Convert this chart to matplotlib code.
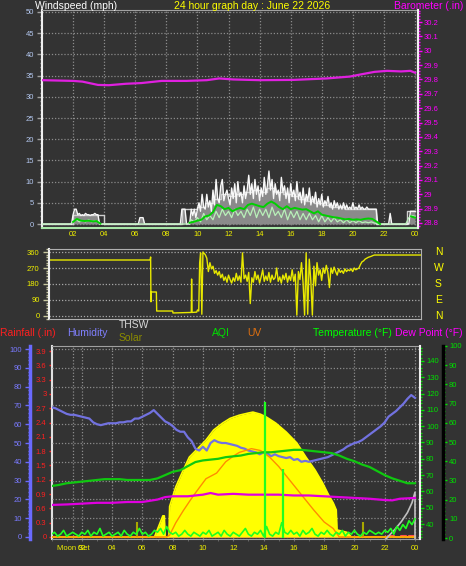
import numpy as np
import matplotlib
matplotlib.use("Agg")
import matplotlib.pyplot as plt
from matplotlib.ticker import MultipleLocator

plt.rcParams['font.family'] = ['Liberation Sans', 'DejaVu Sans']

# ======================= DATA =======================
hour_ticks = [2, 4, 6, 8, 10, 12, 14, 16, 18, 20, 22, 24]
hour_labels = ['02', '04', '06', '08', '10', '12', '14', '16', '18', '20', '22', '00']

# --- wind gust (mph), every 0.1 h from 00:00
gust_vals = (
    [0] * 20
    + [2.2, 3.5, 3.5, 2.2, 2.5, 2.0, 2.2, 2.0, 2.5, 2.2, 2.2, 2.0, 2.2, 2.2, 2.5, 2.2, 2.2]
    + [0] * 26
    + [1.5, 1.5, 1.5]
    + [0] * 24
    + [3.5, 3.5, 3.5]
    + [0] * 3
    + [3.5, 2, 3.5, 1.5]
    + [3.5, 5, 3, 7, 4, 3.5, 7, 4, 5.5, 3]
    + [8, 4.5, 10.5, 6, 5, 9, 10.5, 5.5, 7, 8]
    + [6, 4.5, 8.5, 6, 9.5, 5, 10, 6.5, 7.5, 5]
    + [9, 6, 8, 11.5, 7, 9.5, 6, 10.5, 7, 9]
    + [5.5, 8.5, 6.5, 11, 7, 9, 12.5, 8, 10.5, 6]
    + [9.5, 7, 8, 5.5, 11, 7.5, 9, 6, 8.5, 5]
    + [9.5, 6.5, 8, 5.5, 10, 6, 7.5, 5, 8.5, 4.5]
    + [7, 5.5, 8.5, 4.5, 6.5, 5, 7.5, 4, 6, 4.5]
    + [7, 4, 5.5, 4.5, 6.5, 4, 5, 3.5, 5.5, 4]
    + [5, 3.5, 4.5, 3.5, 5, 3.5, 4.5, 3.5, 4, 3.5]
    + [5, 3.5, 4, 3.5, 4.5, 3.5, 4, 3.5, 3.5, 4]
    + [3.5, 3.5, 3.5, 3.5, 3.5, 3.5]
    + [0] * 8
    + [2.5]
    + [0] * 12
    + [3.0, 3.0, 3.0, 3.0]
)
# --- 10-min high (mph), every 0.5 h
hi_vals = (
    [0] * 4
    + [2.2, 2.2, 2.2, 2.2]
    + [0] * 10
    + [3.5, 3.5, 4, 5, 6, 7, 6.5, 7, 7.5, 8, 7.5, 8.5, 7.5, 7, 6.5, 6, 5.5, 5, 4.5, 4, 4, 3.5, 3.5, 3.5, 3.5]
    + [0] * 4
    + [3, 3]
)
# --- wind speed (mph), every 0.2 h
speed_vals = (
    [0] * 10
    + [0.5, 1.0, 0.5, 0.8, 0.5, 1.0, 0.5, 0.8, 0.5]
    + [0] * 29
    + [1, 0.5,
       1.5, 0.5, 2.5, 1, 2,
       1, 3, 1.5, 3.5, 2,
       3, 1.5, 3.5, 2, 3,
       1.5, 3.5, 2, 4, 1.5,
       3.5, 2, 3.5, 1.5, 4,
       2, 3, 1.5, 3.5, 1,
       3, 1.5, 3, 1, 2.5,
       1, 2.5, 1, 2, 0.5,
       2, 0.5, 1.5, 0.5, 1.5,
       0.5, 1, 0.3, 1, 0.3,
       0.8, 0.3, 0.8, 0.3, 0.5,
       0.3, 0.5, 0.2]
    + [0] * 10
    + [1.5, 2.0, 1.8]
)
# --- 10-min average wind (mph), every 0.25 h
nan = np.nan
avg_vals = (
    [nan] * 8
    + [0.5, 1.2, 0.8, 0.7, 0.8, 0.6, 0.7, 0.1]
    + [nan] * 22
    + [0.3, 0.5,
       0.8, 1.0, 1.8, 2.0,
       2.8, 4.5, 4.2, 3.5,
       3.8, 3.0, 3.5, 3.8,
       3.5, 4.5, 4.8, 4.5,
       4.2, 4.0, 4.8, 5.3,
       4.8, 4.0, 3.5, 4.2,
       3.5, 3.8, 3.6, 3.4,
       3.5, 3.0, 2.5, 3.0,
       2.2, 2.0, 1.8, 1.6,
       1.5, 1.3, 1.1, 1.2,
       1.0, 1.1, 1.0, 1.2,
       1.3, 1.2, 0.6, 0.0]
    + [nan] * 7
    + [1.8, 1.5]
)
# --- barometer (in)
baro_hours = [0, 2, 2.6, 3.6, 4.3, 5.4, 6.4, 7.7, 9.3, 10.6, 11.4, 12.3, 14, 16.2, 18.3,
              19.8, 20.5, 21.4, 22.2, 23.1, 23.7, 24]
baro_vals = [29.795, 29.79, 29.785, 29.762, 29.76, 29.77, 29.775, 29.79, 29.79, 29.795,
             29.807, 29.80, 29.795, 29.797, 29.807, 29.82, 29.835, 29.853, 29.86, 29.856,
             29.86, 29.847]
baro_ticks = [28.8, 28.9, 29.0, 29.1, 29.2, 29.3, 29.4, 29.5, 29.6, 29.7, 29.8, 29.9, 30.0, 30.1, 30.2]
baro_labels = ['28.8', '28.9', '29', '29.1', '29.2', '29.3', '29.4', '29.5', '29.6', '29.7',
               '29.8', '29.9', '30', '30.1', '30.2']

# --- wind direction (deg)
dir_hours_early = [0, 6.55, 6.58, 6.6, 6.62, 6.95, 6.97, 8.0, 8.02, 9.2, 9.22, 9.25, 9.55,
                   9.6, 9.68, 9.74, 9.8, 9.88, 9.95]
dir_vals_early = [315, 315, 332, 80, 135, 135, 28, 28, 17, 20, 208, 20, 22,
                  34, 28, 300, 355, 10, 360]
dir_vals_day = (  # every 0.1 h from 10.0 to 21.0
    [355, 345, 325, 250, 300, 265, 280, 240, 255, 230]
    + [250, 215, 235, 200, 220, 190, 230, 205, 185, 215]
    + [195, 240, 200, 225, 190, 355, 210, 230, 195, 245]
    + [70, 215, 190, 250, 205, 230, 185, 220, 260, 195]
    + [225, 200, 245, 190, 230, 205, 215, 270, 195, 220]
    + [185, 230, 205, 240, 190, 225, 200, 260, 195, 235]
    + [5, 250, 205, 300, 190, 5, 355, 10, 320, 200]
    + [5, 280, 170, 300, 230, 260, 200, 270, 240, 285]
    + [245, 160, 270, 240, 275, 250, 230, 265, 245, 255]
    + [240, 265, 250, 260, 255, 265, 250, 270, 260, 265]
    + [270, 290, 305, 310, 320, 325, 330, 333, 336, 340]
    + [343]
)
dir_hours_late = [24.0]
dir_vals_late = [343]
compass_labels = ['N', 'W', 'S', 'E', 'N']
compass_deg = [360, 270, 180, 90, 0]

# --- humidity (%), every 0.25 h
hum_vals = [69, 68.5, 67.5, 66.5, 65.5, 65, 65, 64.5, 64, 63.5, 63, 61, 60, 59.5, 60, 60.5,
            60.5, 60.5, 61, 61, 61.5, 61.5, 63, 63, 64, 65, 66, 67.5, 65.5, 63.5, 61.5, 60.5,
            59, 57, 56, 56, 53, 51, 47, 46, 48, 46, 50, 51.5, 50.5, 50, 50, 49.5,
            49, 48.5, 47.5, 47, 46, 45.5, 45, 44, 45, 44.5, 43, 44, 43, 42.5, 42, 42.5,
            41, 41.5, 40, 40.5, 40, 40.5, 41, 41.5, 42, 42.5, 43.5, 44.5, 45.5, 46.5, 48, 49,
            50, 50.5, 51.5, 53, 54.5, 56, 57.5, 59, 61, 64, 65.5, 67, 69, 71, 73.5, 75.5, 74]
# --- temperature (F), every 0.5 h
temp_vals = [63.3, 64, 65, 65.5, 66, 66.5, 67, 67.5, 67.5, 67.5, 67, 67, 67, 67, 68, 70,
             72, 73, 75.5, 78, 79, 79.5, 80, 81, 81.5, 82, 83, 83.5, 84, 84, 84.5, 85,
             85.5, 85.5, 85, 84.5, 84, 83.5, 82, 80, 78.5, 76.5, 75, 72.5, 70, 68, 66.5, 65, 65]
# --- dew point (F)
dew_hours = [0, 1, 2, 3, 4, 5, 6, 7, 7.5, 8, 9, 10, 10.5, 11, 12, 13, 14, 15, 16, 17, 18,
             19, 20, 21, 22, 22.5, 23, 24]
dew_vals = [51.7, 52, 52.5, 53, 53, 53.5, 53.5, 55, 56.5, 57, 57, 58, 59, 58, 58.5, 58, 58,
            58, 57.5, 57.5, 57, 56.5, 56, 55.5, 54.7, 54.5, 55.5, 56]
# --- THSW (F)
thsw_hours = [21.9, 22.3, 22.7, 23.1, 23.5, 23.8, 24.0, 24.0]
thsw_vals = [29, 33, 37, 41.5, 47, 53, 59.5, 25]
# --- UV index
uv_hours = [0, 7.6, 7.8, 8.2, 8.7, 9.2, 9.6, 10.2, 10.9, 11.5, 12.0, 12.4, 13.2, 13.8, 14.4,
            15.0, 15.7, 16.5, 17.3, 18.0, 18.6, 19.0, 24]
uv_vals = [0, 0, 0.2, 1.5, 2.8, 4.0, 4.9, 6.2, 6.8, 8.0, 8.6, 9.0, 9.4, 9.2, 8.5,
           7.5, 6.1, 4.5, 2.9, 1.6, 0.9, 0, 0]
# --- solar radiation (W/m2)
solar_hours = [0, 6.8, 7.35, 7.45, 7.5, 7.75, 7.8, 8.2, 8.7, 9.1, 9.6, 10.2, 10.7, 11.3, 11.8,
               12.4, 13.0, 13.3, 13.8, 14.2, 14.8, 15.5, 16.2, 16.8, 17.4, 17.9, 18.3, 18.6,
               18.8, 18.85, 19.5, 19.8, 24]
solar_vals = [0, 0, 180, 180, 0, 0, 260, 425, 570, 680, 745, 825, 910, 970, 1010,
              1037, 1055, 1063, 1045, 1020, 970, 893, 800, 680, 570, 460, 357, 290,
              230, 60, 40, 0, 0]
solar_spike_hours = [5.65, 20.55]
solar_spike_vals = [128, 128]
# --- rainfall (in)
rain_hours = [0.0, 21.9, 22.0, 22.1, 22.2, 22.3, 22.4, 22.5, 22.6, 22.7, 22.8, 22.9, 23.0, 23.1,
              23.2, 23.3, 23.4, 23.5, 23.6, 23.7, 23.8, 23.9, 24.0]
rain_vals = [0, 0, 0, 0, 0.02, 0.02, 0.02, 0.02, 0, 0, 0, 0, 0, 0.02,
             0.02, 0.02, 0, 0, 0.02, 0.02, 0.02, 0.02, 0.02]
rain_ticks = [0, 0.3, 0.6, 0.9, 1.2, 1.5, 1.8, 2.1, 2.4, 2.7, 3.0, 3.3, 3.6, 3.9]
rain_labels = ['0', '0.3', '0.6', '0.9', '1.2', '1.5', '1.8', '2.1', '2.4', '2.7', '3', '3.3', '3.6', '3.9']
# --- AQI, every 0.2 h
aqi_vals = ([2, 3, 1, 2, 4, 1, 2, 3, 2, 1, 3]
            + [2, 4, 1, 3, 2, 5, 1, 2, 3, 1]
            + [2, 3, 1, 4, 2, 1, 3, 2, 5, 2]
            + [3, 1, 2, 4, 3, 5, 2, 6, 3, 2]
            + [3, 1, 2, 4, 2, 1, 3, 2, 1, 3]
            + [2, 4, 1, 2, 3, 1, 4, 2, 1, 3]
            + [2, 1, 3, 5, 2, 1, 3, 2, 4, 1]
            + [6, 2, 1, 3, 2, 8, 3, 2, 4, 2]
            + [3, 1, 4, 2, 3, 5, 2, 1, 3, 2]
            + [4, 2, 1, 3, 2, 4, 1, 3, 2, 4]
            + [2, 1, 3, 2, 4, 3, 2, 3, 2, 4]
            + [3, 5, 2, 6, 4, 7, 5, 9, 7, 10])
aqi_spike_hours = [14.1, 15.3]
aqi_spike_vals = [71, 36]
moon_set_hour = 1.42

# ======================= LAYOUT =======================
W, H = 466, 566
BG = '#333333'
YEL = '#f0f000'
TS = 5.5   # tick label size
HS = 7.5   # header size


def box(l, t, r, b):
    return [l / W, 1 - b / H, (r - l) / W, (b - t) / H]


def pt(px):
    return px * 0.72


fig = plt.figure(figsize=(W / 100, H / 100), dpi=100)
fig.patch.set_facecolor(BG)
GRID = dict(color='#8c8c8c', linestyle=(0, (1, 1.5)), linewidth=0.9)

# ---------------- panel 1 : wind & barometer ----------------
ax1 = fig.add_axes(box(42, 10, 418, 228))
ax1.set_facecolor(BG)
ax1.set_xlim(0, 24.19)
ax1.set_ylim(-0.94, 50.47)
ax1.set_xticks(hour_ticks)
ax1.set_xticklabels(hour_labels)
ax1.tick_params(axis='x', length=0, pad=pt(3), labelsize=TS, labelcolor=YEL)
ax1.set_yticks(np.arange(0, 51, 5))
ax1.yaxis.set_minor_locator(MultipleLocator(1))
ax1.tick_params(axis='y', which='major', length=pt(5), width=1, color='#a0a0a0',
                labelcolor='#b4c8f0', labelsize=TS, pad=pt(3))
ax1.tick_params(axis='y', which='minor', length=pt(2.5), width=1, color='#a0a0a0')
ax1.grid(True, **GRID)
ax1.set_axisbelow(True)
ax1.spines['left'].set_color('#f0f0f0'); ax1.spines['left'].set_linewidth(1.5)
ax1.spines['right'].set_color('#f0f0f0'); ax1.spines['right'].set_linewidth(1.5)
ax1.spines['top'].set_color('#a0a0a0')
ax1.spines['bottom'].set_color('#a8e8a8'); ax1.spines['bottom'].set_linewidth(1.5)

gust_hours = 0.1 * np.arange(len(gust_vals))
hi_hours = 0.5 * np.arange(len(hi_vals))
speed_hours = 0.2 * np.arange(len(speed_vals))
avg_hours = 0.25 * np.arange(len(avg_vals))

ax1.fill_between(gust_hours, 0, gust_vals, color='#8a8a8a', lw=0, zorder=2)
ax1.step(hi_hours, hi_vals, where='post', color='#cfcfcf', lw=1, zorder=3)
ax1.plot(gust_hours, gust_vals, color='#f8f8f8', lw=1.0, zorder=4)
ax1.plot(speed_hours, speed_vals, color='#b8f0b8', lw=0.9, zorder=5)
ax1.plot(avg_hours, avg_vals, color='#00d000', lw=1.4, zorder=6)

ax1b = ax1.twinx()
ax1b.set_ylim(28.765, 30.284)
ax1b.set_yticks(baro_ticks)
ax1b.set_yticklabels(baro_labels)
ax1b.yaxis.set_minor_locator(MultipleLocator(0.02))
ax1b.tick_params(axis='y', which='major', length=pt(4), width=1, color='#ff00ff',
                 labelcolor='#ff00ff', labelsize=TS, pad=pt(2))
ax1b.tick_params(axis='y', which='minor', length=pt(2), width=1, color='#ff00ff')
for s in ['left', 'top', 'bottom']:
    ax1b.spines[s].set_visible(False)
ax1b.spines['right'].set_color('#f0f0f0'); ax1b.spines['right'].set_linewidth(1.5)
ax1b.plot(baro_hours, baro_vals, color='#e020e0', lw=1.6)

fig.text(35 / W, 1 - 6 / H, 'Windspeed (mph)', color='white', fontsize=HS, ha='left', va='center')
fig.text(252 / W, 1 - 6 / H, '24 hour graph day : June 22 2026', color='#ffff00', fontsize=HS,
         ha='center', va='center')
fig.text(463 / W, 1 - 6 / H, 'Barometer (.in)', color='#ff00ff', fontsize=HS, ha='right', va='center')

# ---------------- panel 2 : wind direction ----------------
ax2 = fig.add_axes(box(48.5, 249, 421, 319))
ax2.set_facecolor(BG)
ax2.set_xlim(0, 24)
ax2.set_ylim(-16.9, 376.9)
ax2.set_xticks([])
ax2.set_yticks([0, 90, 180, 270, 360])
ax2.yaxis.set_minor_locator(MultipleLocator(15))
ax2.tick_params(axis='y', which='major', length=pt(6), width=1, color='#c8c8a0',
                labelcolor=YEL, labelsize=TS, pad=pt(3))
ax2.tick_params(axis='y', which='minor', length=pt(3), width=1, color='#c8c8a0')
ax2.grid(True, axis='y', color='#a8a8a8', linestyle=(0, (1, 1.5)), linewidth=0.9)
ax2.set_axisbelow(True)
ax2.spines['left'].set_color('#f0f0f0'); ax2.spines['left'].set_linewidth(1.5)
for s in ['top', 'bottom', 'right']:
    ax2.spines[s].set_color('#b0b0b0')
dir_hours = np.concatenate([dir_hours_early, 10.0 + 0.1 * np.arange(len(dir_vals_day)), dir_hours_late])
dir_vals = np.concatenate([dir_vals_early, dir_vals_day, dir_vals_late])
ax2.plot(dir_hours, dir_vals, color='#e8e800', lw=1.0)
for lab, d in zip(compass_labels, compass_deg):
    ax2.text(1.047, d, lab, transform=ax2.get_yaxis_transform(), color='#ffff00',
             fontsize=7.5, ha='center', va='center')

# ---------------- panel 3 : temp / humidity / solar etc ----------------
ax3 = fig.add_axes(box(51.5, 346, 420, 539))
ax3.set_facecolor(BG)
ax3.set_xlim(0, 24.33)
ax3.set_ylim(-0.042, 4.005)
ax3.set_xticks(hour_ticks)
ax3.set_xticklabels(hour_labels)
ax3.xaxis.set_minor_locator(MultipleLocator(1))
ax3.tick_params(axis='x', which='both', length=pt(2.5), color='#707070', labelcolor=YEL,
                labelsize=TS, pad=pt(4))
ax3.set_yticks(rain_ticks)
ax3.set_yticklabels(rain_labels)
ax3.yaxis.set_minor_locator(MultipleLocator(0.1))
ax3.tick_params(axis='y', which='major', length=pt(3), width=1, color='#ff2020',
                labelcolor='#ff2020', labelsize=TS, pad=pt(2))
ax3.tick_params(axis='y', which='minor', length=pt(1.5), width=1, color='#ff2020')
ax3.grid(True, axis='x', **GRID)
ax3.set_axisbelow(True)
ax3.spines['left'].set_color('#e0e0e0'); ax3.spines['left'].set_linewidth(1.5)
ax3.spines['top'].set_color('#a0a0a0')
ax3.spines['bottom'].set_color('#a0a0a0')
ax3.spines['right'].set_visible(False)
ax3.axvline(moon_set_hour, **GRID)
ax3.text(moon_set_hour, -9.5 / 193, 'Moon Set', transform=ax3.get_xaxis_transform(), color=YEL,
         fontsize=TS, ha='center', va='center')
rh = np.array(rain_hours)
rv = np.array(rain_vals)
ax3.fill_between(rh, 0, rv, step='post', color='#ff0000', lw=0)
ax3.step(rh, rv, where='post', color='#ff5050', lw=1.5)

# solar (hidden axis)
ax_sol = ax3.twinx()
ax_sol.set_ylim(-17.0, 1625.6)
ax_sol.set_yticks(np.arange(0, 1601, 160))
ax_sol.tick_params(axis='y', length=0, labelright=False)
ax_sol.grid(True, axis='y', **GRID)
ax_sol.set_axisbelow(True)
for s in ax_sol.spines.values():
    s.set_visible(False)
ax_sol.fill_between(solar_hours, 0, solar_vals, color='#ffff00', lw=0, zorder=2)
ax_sol.plot(solar_hours, solar_vals, color='#ffff00', lw=1.2, zorder=2)
ax_sol.vlines(solar_spike_hours, 0, solar_spike_vals, color='#a8a800', lw=1.5, zorder=3)

# humidity
ax_hum = ax3.twinx()
ax_hum.set_ylim(-1.064, 101.6)
ax_hum.yaxis.tick_left()
ax_hum.yaxis.set_label_position('left')
ax_hum.spines['left'].set_position(('axes', -0.058))
ax_hum.spines['left'].set_visible(True)
ax_hum.spines['left'].set_color('#6a6aff'); ax_hum.spines['left'].set_linewidth(2.5)
for s in ['right', 'top', 'bottom']:
    ax_hum.spines[s].set_visible(False)
ax_hum.set_yticks(np.arange(0, 101, 10))
ax_hum.yaxis.set_minor_locator(MultipleLocator(2))
ax_hum.tick_params(axis='y', which='major', length=pt(5), width=1, color='#6a6aff',
                   labelcolor='#7a7aff', labelsize=TS, pad=pt(3))
ax_hum.tick_params(axis='y', which='minor', length=pt(2.5), width=1, color='#6a6aff')
hum_hours = 0.25 * np.arange(len(hum_vals))
ax_hum.plot(hum_hours, hum_vals, color='#7272e0', lw=1.6)

# UV (hidden axis)
ax_uv = ax3.twinx()
ax_uv.set_ylim(-0.213, 20.32)
ax_uv.set_yticks([])
for s in ax_uv.spines.values():
    s.set_visible(False)
ax_uv.plot(uv_hours, uv_vals, color='#ff8c00', lw=1.0)

# temperature / dew point / THSW
ax_t = ax3.twinx()
ax_t.set_ylim(30.8, 149.2)
ax_t.set_yticks(np.arange(40, 141, 10))
ax_t.yaxis.set_minor_locator(MultipleLocator(2))
ax_t.tick_params(axis='y', which='major', length=pt(4), width=1, color='#00e000',
                 labelcolor='#00e000', labelsize=TS, pad=pt(2))
ax_t.tick_params(axis='y', which='minor', length=pt(2), width=1, color='#00e000')
for s in ['left', 'top', 'bottom']:
    ax_t.spines[s].set_visible(False)
ax_t.spines['right'].set_color('#f0f0f0'); ax_t.spines['right'].set_linewidth(1.5)
temp_hours = 0.5 * np.arange(len(temp_vals))
ax_t.plot(thsw_hours, thsw_vals, color='#c0c0c0', lw=1.2)
ax_t.plot(dew_hours, dew_vals, color='#e000e0', lw=1.6)
ax_t.plot(temp_hours, temp_vals, color='#10c810', lw=1.6)

# AQI
ax_q = ax3.twinx()
ax_q.set_ylim(-0.5, 99.4)
ax_q.spines['right'].set_position(('axes', 1.0624))
ax_q.spines['right'].set_color('#000000'); ax_q.spines['right'].set_linewidth(2.5)
for s in ['left', 'top', 'bottom']:
    ax_q.spines[s].set_visible(False)
ax_q.set_yticks(np.arange(0, 101, 10))
ax_q.yaxis.set_minor_locator(MultipleLocator(2))
ax_q.tick_params(axis='y', which='major', length=pt(4), width=1, color='#00e000',
                 labelcolor='#00e000', labelsize=TS, pad=pt(2))
ax_q.tick_params(axis='y', which='minor', length=pt(2), width=1, color='#00e000')
aqi_hours = 0.2 * np.arange(len(aqi_vals))
ax_q.plot(aqi_hours, aqi_vals, color='#20ff20', lw=1.2)
ax_q.vlines(aqi_spike_hours, 0, aqi_spike_vals, color='#20ff20', lw=1.6)

# headers of panel 3
fig.text(0 / W, 1 - 333 / H, 'Rainfall (.in)', color='#ff2020', fontsize=HS, ha='left', va='center')
fig.text(67 / W, 1 - 333 / H, 'Humidity', color='#8080ff', fontsize=HS, ha='left', va='center')
fig.text(119 / W, 1 - 325 / H, 'THSW', color='#d8d8d8', fontsize=HS, ha='left', va='center')
fig.text(119 / W, 1 - 338 / H, 'Solar', color='#8c8c00', fontsize=HS, ha='left', va='center')
fig.text(212 / W, 1 - 333 / H, 'AQI', color='#00e000', fontsize=HS, ha='left', va='center')
fig.text(247 / W, 1 - 333 / H, 'UV', color='#e07010', fontsize=HS, ha='left', va='center')
fig.text(313 / W, 1 - 333 / H, 'Temperature (°F)', color='#00ff00', fontsize=HS, ha='left', va='center')
fig.text(463 / W, 1 - 333 / H, 'Dew Point (°F)', color='#ff00ff', fontsize=HS, ha='right', va='center')

fig.savefig('out.png', dpi=100, facecolor=BG)
